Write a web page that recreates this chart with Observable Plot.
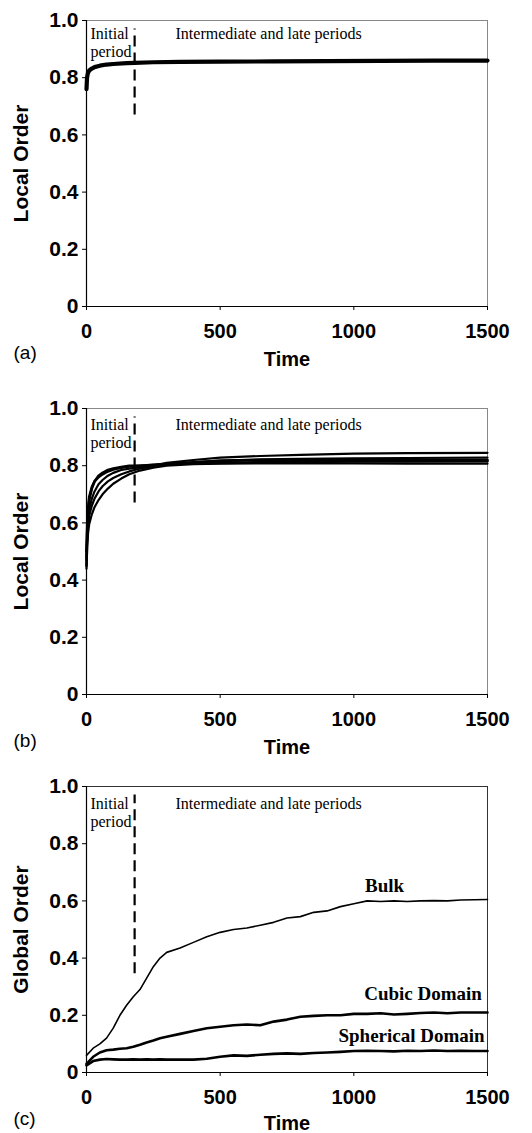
<!DOCTYPE html>
<html><head><meta charset="utf-8">
<script src="https://cdn.jsdelivr.net/npm/d3@7"></script>
<script src="https://cdn.jsdelivr.net/npm/@observablehq/plot@0.6"></script>
<style>
body{margin:0;background:#fff;}
#wrap{position:relative;width:532px;height:1133px;overflow:hidden;background:#fff;}
#wrap svg{position:absolute;left:0;}
</style></head><body><div id="wrap"></div>
<script>
// Panel (a)
const timeA = [0,2,5,10,20,30,50,75,100,150,180,250,350,500,700,900,1100,1300,1500];
const orderA = [0.76,0.80,0.815,0.825,0.832,0.837,0.842,0.846,0.848,0.851,0.852,0.854,0.855,0.856,0.857,0.858,0.859,0.86,0.86];
// Panel (b)
const timeB = [0,3,6,10,20,30,45,60,80,100,130,160,200,250,300,400,500,650,800,1000,1200,1500];
const orderB1 = [0.45,0.58,0.64,0.68,0.72,0.745,0.765,0.775,0.785,0.79,0.795,0.80,0.80,0.802,0.805,0.808,0.81,0.812,0.813,0.815,0.815,0.816];
const orderB2 = [0.47,0.57,0.61,0.645,0.685,0.71,0.735,0.75,0.765,0.775,0.785,0.79,0.795,0.80,0.81,0.82,0.828,0.834,0.838,0.842,0.844,0.845];
const orderB3 = [0.48,0.55,0.59,0.625,0.66,0.685,0.71,0.728,0.745,0.757,0.77,0.78,0.79,0.798,0.804,0.812,0.818,0.822,0.824,0.826,0.827,0.828];
const orderB4 = [0.44,0.53,0.565,0.595,0.63,0.655,0.68,0.70,0.72,0.737,0.755,0.77,0.783,0.793,0.80,0.805,0.807,0.808,0.808,0.808,0.807,0.807];
const orderB5 = [0.50,0.60,0.65,0.69,0.725,0.745,0.76,0.77,0.78,0.787,0.793,0.797,0.80,0.803,0.806,0.812,0.817,0.82,0.82,0.82,0.82,0.82];
// Panel (c)
const timeC = [0,25,50,75,100,125,150,175,200,225,250,275,300,350,400,450,500,550,600,650,700,750,800,850,900,950,1000,1050,1100,1150,1200,1250,1300,1350,1400,1450,1500];
const bulk = [0.06,0.085,0.10,0.12,0.155,0.20,0.235,0.265,0.29,0.33,0.37,0.40,0.42,0.435,0.455,0.475,0.49,0.50,0.505,0.515,0.525,0.54,0.545,0.56,0.565,0.58,0.59,0.60,0.598,0.60,0.598,0.60,0.601,0.60,0.603,0.604,0.605];
const cubic = [0.03,0.055,0.07,0.078,0.08,0.083,0.085,0.09,0.097,0.105,0.112,0.12,0.125,0.135,0.145,0.155,0.16,0.165,0.168,0.165,0.178,0.185,0.195,0.198,0.20,0.20,0.205,0.205,0.207,0.203,0.205,0.208,0.21,0.207,0.21,0.21,0.21];
const spherical = [0.025,0.04,0.045,0.047,0.046,0.045,0.045,0.046,0.045,0.046,0.045,0.046,0.045,0.045,0.045,0.048,0.055,0.06,0.058,0.062,0.065,0.067,0.065,0.068,0.07,0.072,0.075,0.076,0.075,0.074,0.076,0.075,0.077,0.075,0.076,0.075,0.075];
const seriesC = [["Bulk", bulk, 1.6],["Cubic Domain", cubic, 2.6],["Spherical Domain", spherical, 2.6]];
const curveLabels = [{name:"Bulk", t:1115, v:0.653},{name:"Cubic Domain", t:1259, v:0.275},{name:"Spherical Domain", t:1216, v:0.129}];
const xTicks = [0,500,1000,1500];
const yTicks = [0,0.2,0.4,0.6,0.8,1.0];
const boundary = 180;

const sans = "'Liberation Sans', Arial, sans-serif";
const serif = "'Liberation Serif', 'Times New Roman', serif";

function panel({lines, yLabel, letter, dashLow, height, top, labelsC, initialY, periodY, frameColor, timeOffset}) {
  const marks = [
    Plot.frame({stroke:frameColor, strokeWidth:1}),
    Plot.ruleX([0], {stroke:"#000", strokeWidth:1.2}),
    Plot.ruleY([0], {stroke:"#000", strokeWidth:1.2}),
    Plot.axisX({ticks:xTicks, tickSize:4, tickPadding:13, fontSize:20, fontWeight:"bold", label:"Time", labelAnchor:"center", labelArrow:"none", labelOffset:timeOffset, tickFormat:d=>String(d)}),
    Plot.axisY({ticks:yTicks, tickSize:4, tickPadding:4, fontSize:21, fontWeight:"bold", label:yLabel, labelAnchor:"center", labelArrow:"none", labelOffset:73, tickFormat:d=>d===0?"0":d.toFixed(1)}),
    Plot.ruleX([boundary], {y1:dashLow, y2:0.97, stroke:"#000", strokeWidth:2.2, strokeDasharray:"11,6"}),
    Plot.text(["Initial"], {x:15, y:initialY, text:d=>d, textAnchor:"start", fontFamily:serif, fontSize:16}),
    Plot.text(["period"], {x:15, y:periodY, text:d=>d, textAnchor:"start", fontFamily:serif, fontSize:16}),
    Plot.text(["Intermediate and late periods"], {x:333, y:initialY, text:d=>d, textAnchor:"start", fontFamily:serif, fontSize:16}),
    Plot.text([letter], {frameAnchor:"bottom-left", dx:-73, dy:52, text:d=>d, textAnchor:"start", fontFamily:sans, fontSize:19})
  ];
  for (const [t, v, w] of lines) {
    marks.push(Plot.line(t.map((x,i)=>({x, y:v[i]})), {x:"x", y:"y", stroke:"#000", strokeWidth:w, strokeLinejoin:"round"}));
  }
  if (labelsC) {
    marks.push(Plot.text(labelsC, {x:"t", y:"v", text:"name", fontFamily:serif, fontWeight:"bold", fontSize:19, fill:"#000"}));
  }
  const svg = Plot.plot({
    width:532, height, marginLeft:86, marginRight:45, marginTop:20, marginBottom:height-20-286,
    style:{fontFamily:sans, color:"#000", background:"transparent"},
    x:{domain:[0,1500]}, y:{domain:[0,1]},
    marks
  });
  svg.style.top = top + "px";
  document.getElementById("wrap").appendChild(svg);
}

panel({lines:[[timeA, orderA, 4.2]], yLabel:"Local Order", letter:"(a)", dashLow:0.67, height:375, top:0, initialY:0.952, periodY:0.889, frameColor:"#888", timeOffset:59});
panel({lines:[[timeB, orderB1, 2.6],[timeB, orderB2, 2.2],[timeB, orderB3, 2.2],[timeB, orderB4, 2.2],[timeB, orderB5, 2.6]], yLabel:"Local Order", letter:"(b)", dashLow:0.67, height:375, top:388, initialY:0.944, periodY:0.881, frameColor:"#888", timeOffset:59});
panel({lines:seriesC.map(([n,v,w])=>[timeC, v, w]), yLabel:"Global Order", letter:"(c)", dashLow:0.345, height:367, top:766, labelsC:curveLabels, initialY:0.938, periodY:0.875, frameColor:"#333", timeOffset:57});
</script></body></html>
